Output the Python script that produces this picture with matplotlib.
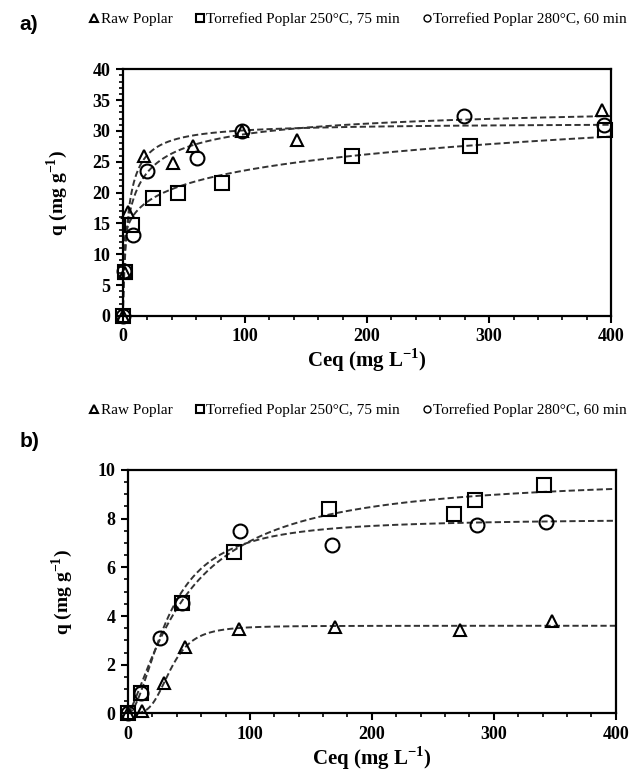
import numpy as np
import matplotlib as mpl
import matplotlib.pyplot as plt
from matplotlib.lines import Line2D

# ---- panel a data (Ceq mg/L, q mg/g) ----
a_raw_x = [0, 1.5, 4, 17, 41, 57.5, 97.5, 143, 392.6]
a_raw_y = [0, 7.0, 16.8, 25.9, 24.8, 27.5, 30.0, 28.5, 33.4]
a_250_x = [0, 1.6, 7.4, 24.6, 45, 81, 188, 284, 395]
a_250_y = [0, 7.1, 14.7, 19.1, 19.9, 21.5, 25.9, 27.5, 30.1]
a_280_x = [0, 1.2, 8, 19.7, 60.7, 97.5, 279.5, 394]
a_280_y = [0, 7.3, 13.1, 23.5, 25.6, 30.0, 32.4, 31.0]

# ---- panel b data ----
b_raw_x = [0, 11.5, 29.6, 47, 91, 169.6, 272, 347.4]
b_raw_y = [0, 0.12, 1.26, 2.72, 3.46, 3.54, 3.41, 3.78]
b_250_x = [0, 10.7, 44, 87, 165, 267, 285, 341]
b_250_y = [0, 0.85, 4.55, 6.63, 8.4, 8.2, 8.78, 9.39]
b_280_x = [0, 10.7, 26, 44, 92, 167.5, 286, 342.5]
b_280_y = [0, 0.85, 3.09, 4.55, 7.48, 6.91, 7.72, 7.85]

# fitted isotherm parameters
# sips: q = Q (K C)^n / (1 + (K C)^n);  freundlich: q = Kf C^m
a_raw_fit = (31.3, 0.25, 1.0)
a_280_fit = (35.0, 0.152, 0.615)
a_250_freund = (11.77, 0.151)
b_raw_fit = (3.6, 0.0287, 3.78)
b_250_fit = (9.8, 0.0207, 1.31)
b_280_fit = (8.0, 0.030, 1.81)

serif = 'Liberation Serif'
plt.rcParams['font.family'] = serif


def sips(c, p):
    Q, K, n = p
    t = (K * c) ** n
    return Q * t / (1 + t)


def style_axes(ax, ymax, ymaj, ymin):
    ax.set_xlim(0, 400)
    ax.set_ylim(0, ymax)
    ax.xaxis.set_major_locator(mpl.ticker.MultipleLocator(100))
    ax.xaxis.set_minor_locator(mpl.ticker.MultipleLocator(20))
    ax.yaxis.set_major_locator(mpl.ticker.MultipleLocator(ymaj))
    ax.yaxis.set_minor_locator(mpl.ticker.MultipleLocator(ymin))
    for s in ax.spines.values():
        s.set_linewidth(1.6)
    ax.tick_params(which='major', direction='out', length=5, width=1.5,
                   labelsize=13, pad=4)
    ax.tick_params(which='minor', direction='out', length=3, width=1.2)
    for lab in ax.get_xticklabels() + ax.get_yticklabels():
        lab.set_fontweight('bold')
    ax.set_xlabel('Ceq (mg L$^{\\mathregular{-1}}$)', fontsize=15,
                  fontweight='bold', labelpad=1)
    ax.set_ylabel('q (mg g$^{\\mathregular{-1}}$)', fontsize=14,
                  fontweight='bold', labelpad=16)


def scatter_sets(ax, sets):
    for x, y, m, ms in sets:
        ax.plot(x, y, linestyle='none', marker=m, markersize=ms,
                markerfacecolor='none', markeredgecolor='black',
                markeredgewidth=1.5, zorder=3, clip_on=False)


def legend_row(y):
    handles = [
        Line2D([], [], ls='none', marker='^', ms=6, mfc='none', mec='black', mew=1.5),
        Line2D([], [], ls='none', marker='s', ms=6, mfc='none', mec='black', mew=1.5),
        Line2D([], [], ls='none', marker='o', ms=5, mfc='none', mec='black', mew=1.0),
    ]
    labels = ['Raw Poplar', 'Torrefied Poplar 250°C, 75 min',
              'Torrefied Poplar 280°C, 60 min']
    fig.legend(handles, labels, loc='center', bbox_to_anchor=(0.56, y),
               ncol=3, frameon=False, handlelength=0.6,
               handletextpad=0.1, columnspacing=1.5,
               prop={'family': serif, 'size': 11})


dash = dict(color='#333333', linestyle=(0, (3.2, 1.6)), linewidth=1.4, zorder=2)

fig = plt.figure(figsize=(6.4, 7.78), dpi=100)

# ---- panel a ----
axA = fig.add_axes([0.192, 0.594, 0.763, 0.317])
c = np.linspace(0, 400, 800)
axA.plot(c, sips(c, a_raw_fit), **dash)
axA.plot(c, sips(c, a_280_fit), **dash)
axA.plot(c, a_250_freund[0] * c ** a_250_freund[1], **dash)
scatter_sets(axA, [(a_raw_x, a_raw_y, '^', 9),
                   (a_250_x, a_250_y, 's', 10),
                   (a_280_x, a_280_y, 'o', 10)])
style_axes(axA, 40, 5, 1)

# ---- panel b ----
axB = fig.add_axes([0.200, 0.083, 0.762, 0.313])
axB.plot(c, sips(c, b_raw_fit), **dash)
axB.plot(c, sips(c, b_250_fit), **dash)
axB.plot(c, sips(c, b_280_fit), **dash)
scatter_sets(axB, [(b_raw_x, b_raw_y, '^', 9),
                   (b_250_x, b_250_y, 's', 10),
                   (b_280_x, b_280_y, 'o', 10)])
style_axes(axB, 10, 2, 0.5)

legend_row(1 - 19 / 778)
legend_row(1 - 410 / 778)

fig.text(0.03, 1 - 24 / 778, 'a)', fontsize=15, fontweight='bold',
         family='Liberation Sans', va='center')
fig.text(0.03, 1 - 442 / 778, 'b)', fontsize=15, fontweight='bold',
         family='Liberation Sans', va='center')

fig.savefig('out.png', dpi=100)
